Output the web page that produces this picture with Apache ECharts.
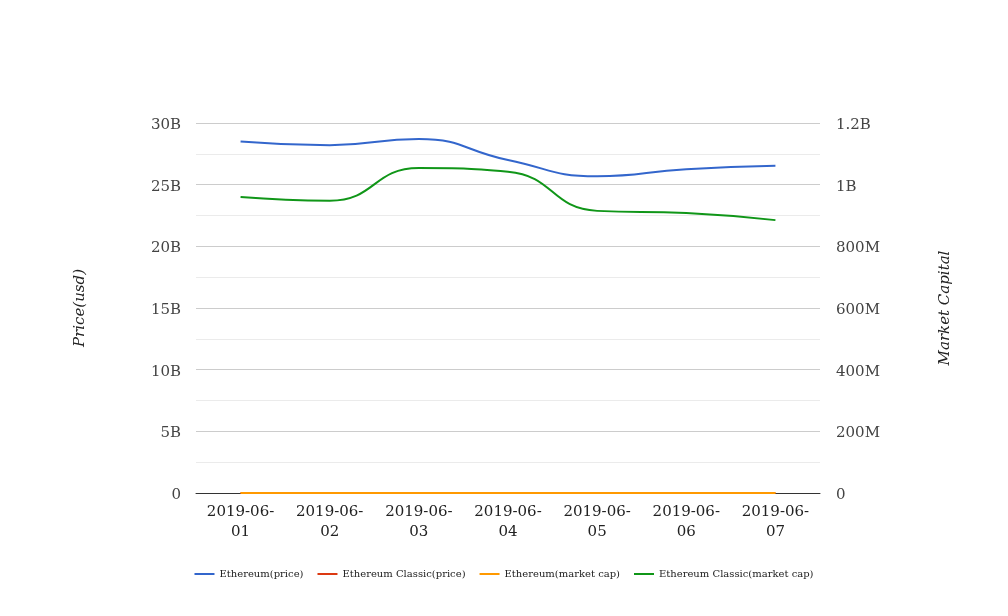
<!DOCTYPE html>
<html><head><meta charset="utf-8">
<script src="https://cdn.jsdelivr.net/npm/echarts@6/dist/echarts.min.js"></script>
<style>html,body{margin:0;padding:0;background:#fff}#c{width:1008px;height:616px}</style>
</head><body><div id="c"></div>
<script>
const dates = ['2019-06-01','2019-06-02','2019-06-03','2019-06-04','2019-06-05','2019-06-06','2019-06-07'];
const seriesNames = ['Ethereum(price)','Ethereum Classic(price)','Ethereum(market cap)','Ethereum Classic(market cap)'];
const ethPriceLine = [28.50e9, 28.20e9, 28.70e9, 27.00e9, 25.68e9, 26.25e9, 26.53e9];
const etcPriceLine = [8.7, 8.6, 9.5, 9.4, 8.3, 8.2, 8.0];
const ethCapLine = [268, 265, 270, 252, 241, 246, 249];
const etcCapLine = [0.960e9, 0.948e9, 1.054e9, 1.042e9, 0.915e9, 0.908e9, 0.885e9];
const colors = ['#3366cc','#dc3912','#ff9900','#109618'];

function fmt(v){
  let s;
  if (v === 0) s = '0';
  else if (v >= 1e9) s = (+(v/1e9).toFixed(2)) + 'B';
  else if (v >= 1e6) s = (+(v/1e6).toFixed(2)) + 'M';
  else s = String(v);
  return '{a|' + s + '}';
}
const font = 'DejaVu Serif, serif';
const labelRich = {a:{fontFamily:font, fontSize:15, color:'#444', padding:[4,0,0,0]}};
const chart = echarts.init(document.getElementById('c'));
chart.setOption({
  animation:false,
  color: colors,
  grid:{left:196, right:188, top:123, bottom:123},
  legend:{
    bottom:32, left:'center', icon:'rect', itemWidth:20, itemHeight:2, itemGap:14,
    textStyle:{fontFamily:font, fontSize:10, color:'#222'},
    data: seriesNames
  },
  xAxis:{
    type:'category', data:dates, boundaryGap:true,
    axisLine:{lineStyle:{color:'#333'}}, axisTick:{show:false},
    axisLabel:{fontFamily:font, fontSize:15, color:'#222', margin:9, lineHeight:20,
      formatter:v=>v.slice(0,8)+'\n'+v.slice(8)}
  },
  yAxis:[
    {type:'value', min:0, max:30e9, interval:5e9, name:'Price(usd)', nameLocation:'middle', nameGap:108,
     nameTextStyle:{fontFamily:font, fontSize:15, fontStyle:'italic', color:'#222'},
     axisLine:{show:false}, axisTick:{show:false},
     axisLabel:{margin:15, formatter:fmt, rich:labelRich},
     splitLine:{lineStyle:{color:'#cccccc'}},
     minorTick:{show:false, splitNumber:2},
     minorSplitLine:{show:true, lineStyle:{color:'#ebebeb'}}},
    {type:'value', min:0, max:1.2e9, interval:0.2e9, name:'Market Capital', nameLocation:'middle', nameGap:118,
     nameTextStyle:{fontFamily:font, fontSize:15, fontStyle:'italic', color:'#222'},
     axisLine:{show:false}, axisTick:{show:false},
     axisLabel:{margin:16, formatter:fmt, rich:labelRich},
     splitLine:{show:false}}
  ],
  series:[
    {name:seriesNames[0], type:'line', yAxisIndex:0, data:ethPriceLine, smooth:true, symbol:'none', lineStyle:{width:2}},
    {name:seriesNames[1], type:'line', yAxisIndex:0, data:etcPriceLine, smooth:true, symbol:'none', lineStyle:{width:2}},
    {name:seriesNames[2], type:'line', yAxisIndex:1, data:ethCapLine, smooth:true, symbol:'none', lineStyle:{width:2}},
    {name:seriesNames[3], type:'line', yAxisIndex:1, data:etcCapLine, smooth:true, symbol:'none', lineStyle:{width:2}}
  ]
});
</script></body></html>
